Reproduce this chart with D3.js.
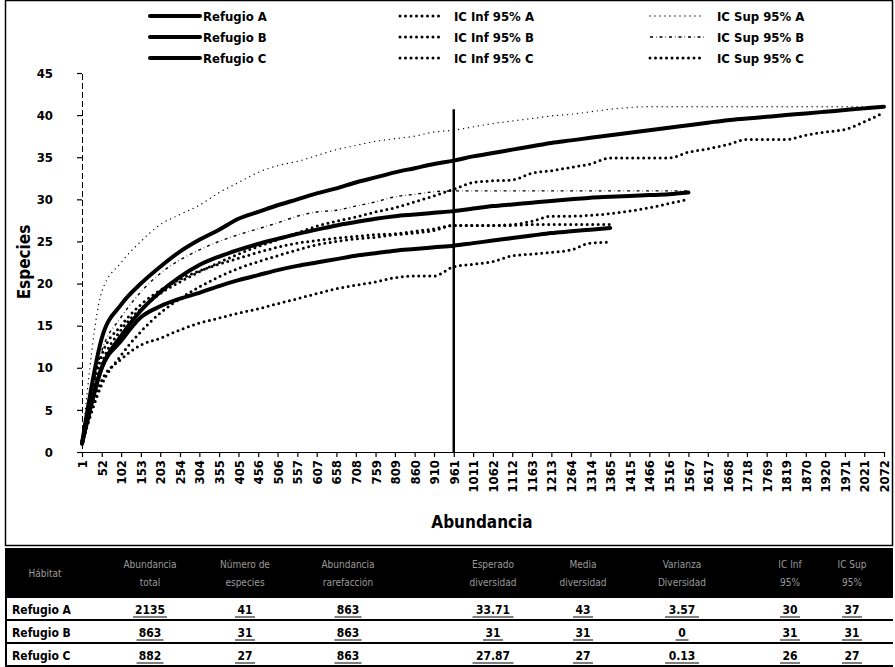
<!DOCTYPE html>
<meta charset="utf-8">
<head>
    <script src="https://d3js.org/d3.v7.min.js"></script>
    <style>
        body { margin: 0; background: #fff; }
        text { font-family: "Liberation Sans Narrow", "DejaVu Sans Condensed", "Liberation Sans", sans-serif; font-weight: bold; }
        .tick-label { font-size: 13px; }
        .legend { font-size: 13px; }
        .title { font-size: 17px; }
        .th { font-size: 10px; fill: #9a9a9a; font-weight: normal; }
        .td { font-size: 12px; }
    </style>
    <title>Curvas de rarefaccion</title>
</head>
<body>
<svg id="chart" width="895" height="667"></svg>

<script>
    // eje x (categorias de abundancia)
    var ticksX = [1, 52, 102, 153, 203, 254, 304, 355, 405, 456, 506, 557, 607, 658, 708, 759, 809, 860, 910, 961,
        1011, 1062, 1112, 1163, 1213, 1264, 1314, 1365, 1415, 1466, 1516, 1567, 1617, 1668, 1718, 1769, 1819, 1870,
        1920, 1971, 2021, 2072];
    var ticksY = [0, 5, 10, 15, 20, 25, 30, 35, 40, 45];

    var refugioA = [1, 13.5, 17.5, 20, 22, 23.8, 25.2, 26.4, 27.7, 28.5, 29.3, 30, 30.7, 31.3, 32, 32.6, 33.2, 33.7, 34.2, 34.6,
        35.1, 35.5, 35.9, 36.3, 36.7, 37, 37.3, 37.6, 37.9, 38.2, 38.5, 38.8, 39.1, 39.4, 39.6, 39.8, 40, 40.2,
        40.4, 40.6, 40.8, 41];
    var infA = [1, 10.5, 14.5, 17, 18.8, 20.2, 21.4, 22.5, 23.5, 24.4, 25.2, 26, 26.8, 27.4, 27.9, 28.5, 29, 29.7, 30.4, 31.2,
        32, 32.2, 32.3, 33.1, 33.4, 33.8, 34.2, 34.9, 34.9, 34.9, 34.9, 35.6, 36, 36.5, 37.1, 37.1, 37.1, 37.6,
        38, 38.3, 39.2, 40.3];
    var supA = [1, 19, 22.5, 25, 27, 28.2, 29.3, 30.8, 32, 33.2, 34, 34.5, 35.2, 35.9, 36.4, 36.9, 37.2, 37.5, 38, 38.2,
        38.6, 39, 39.3, 39.6, 39.9, 40.1, 40.4, 40.7, 40.9, 41, 41, 41, 41, 41, 41, 41, 41, 41,
        41, 41, 41, 41];

    var refugioB = [1, 10, 13.8, 16.8, 19, 20.8, 22.2, 23.2, 24, 24.7, 25.3, 25.9, 26.4, 26.9, 27.3, 27.7, 28, 28.2, 28.4, 28.6,
        28.9, 29.2, 29.4, 29.6, 29.8, 30, 30.2, 30.3, 30.4, 30.5, 30.6, 30.8];
    var infB = [1, 8, 11.5, 14.3, 16.5, 18.2, 19.6, 20.8, 21.8, 22.6, 23.3, 24, 24.6, 25, 25.3, 25.5, 25.8, 26, 26.3, 26.9,
        26.9, 26.9, 27, 27.4, 28, 28, 28.1, 28.3, 28.6, 29, 29.5, 30];
    var supB = [1, 12, 16, 19, 21.2, 22.8, 24, 25, 25.8, 26.5, 27.2, 28, 28.5, 28.7, 29.2, 29.7, 30.3, 30.6, 30.9, 31,
        31, 31, 31, 31, 31, 31, 31, 31, 31, 31, 31, 31];

    var refugioC = [1, 10, 13.2, 16, 17.3, 18.2, 18.9, 19.7, 20.4, 21, 21.6, 22.1, 22.5, 22.9, 23.3, 23.6, 23.9, 24.1, 24.3, 24.5,
        24.8, 25.1, 25.4, 25.7, 26, 26.2, 26.4, 26.6];
    var infC = [1, 8.5, 11, 12.7, 13.5, 14.5, 15.3, 15.9, 16.5, 17, 17.6, 18.2, 18.8, 19.4, 19.8, 20.2, 20.7, 20.9, 20.9, 22,
        22.3, 22.6, 23.3, 23.5, 23.7, 24, 24.8, 24.9];
    var supC = [1, 11.5, 15, 17.5, 19.2, 20.5, 21.5, 22.3, 23, 23.7, 24.3, 24.8, 25.1, 25.4, 25.6, 25.8, 25.9, 26.2, 26.5, 26.9,
        26.9, 26.9, 26.9, 27, 27, 27, 27, 27];

    var refX = 961, refTop = 40.7;

    // tabla
    var tableHead = [["Hábitat"], ["Abundancia", "total"], ["Número de", "especies"], ["Abundancia", "rarefacción"],
        ["Esperado", "diversidad"], ["Media", "diversidad"], ["Varianza", "Diversidad"], ["IC Inf", "95%"], ["IC Sup", "95%"]];
    var tableNames = ["Refugio A", "Refugio B", "Refugio C"];
    var abundTotal = ["2135", "863", "882"];
    var numEspecies = ["41", "31", "27"];
    var abundRare = ["863", "863", "863"];
    var esperado = ["33.71", "31", "27.87"];
    var media = ["43", "31", "27"];
    var varianza = ["3.57", "0", "0.13"];
    var icInf = ["30", "31", "26"];
    var icSup = ["37", "31", "27"];

    var svg = d3.select("#chart");

    var x = d3.scaleLinear().domain([1, 2072]).range([82, 884]);
    var y = d3.scaleLinear().domain([0, 45]).range([452, 73]);

    // marco del grafico
    svg.append("rect")
        .attr("x", 5.5).attr("y", 0.5)
        .attr("width", 887).attr("height", 545)
        .attr("fill", "none").attr("stroke", "#000").attr("stroke-width", 1.5);

    // ejes
    var yAxis = svg.append("g").attr("transform", "translate(82,0)")
        .call(d3.axisLeft(y).tickValues(ticksY).tickSize(5).tickPadding(24));
    yAxis.selectAll("text").attr("class", "tick-label");
    yAxis.select(".domain").attr("stroke-dasharray", "6 3");

    var xAxis = svg.append("g").attr("transform", "translate(0,452)")
        .call(d3.axisBottom(x).tickValues(ticksX).tickSize(5).tickSizeOuter(0).tickFormat(d3.format("d")));
    xAxis.selectAll("text")
        .attr("class", "tick-label")
        .attr("transform", "rotate(-90)")
        .attr("text-anchor", "end")
        .attr("x", -8).attr("y", 0).attr("dy", "0.35em");
    svg.selectAll(".tick line").attr("stroke-width", 1.2);

    svg.append("text").attr("class", "title")
        .attr("transform", "translate(30,262) rotate(-90)")
        .attr("text-anchor", "middle").text("Especies");
    svg.append("text").attr("class", "title")
        .attr("x", 482).attr("y", 528)
        .attr("text-anchor", "middle").text("Abundancia");

    // linea de referencia
    svg.append("line")
        .attr("x1", x(refX)).attr("x2", x(refX))
        .attr("y1", y(refTop)).attr("y2", y(0))
        .attr("stroke", "#000").attr("stroke-width", 2.5);

    var styles = {
        solid: {w: 4, dash: null, cap: "round"},
        bold: {w: 3, dash: "0 5.5", cap: "round"},
        lightA: {w: 1.4, dash: "0 5", cap: "round"},
        lightB: {w: 1.4, dash: "3 3 0.5 3", cap: "butt"}
    };

    var series = [
        {name: "IC Sup 95% A", values: supA, style: "lightA"},
        {name: "IC Sup 95% B", values: supB, style: "lightB"},
        {name: "IC Inf 95% A", values: infA, style: "bold"},
        {name: "IC Inf 95% B", values: infB, style: "bold"},
        {name: "IC Sup 95% C", values: supC, style: "bold"},
        {name: "IC Inf 95% C", values: infC, style: "bold"},
        {name: "Refugio A", values: refugioA, style: "solid"},
        {name: "Refugio B", values: refugioB, style: "solid"},
        {name: "Refugio C", values: refugioC, style: "solid"}
    ];

    var line = d3.line()
        .x(function (d) { return x(d[0]); })
        .y(function (d) { return y(d[1]); })
        .curve(d3.curveMonotoneX);

    series.forEach(function (s) {
        var st = styles[s.style];
        var pts = s.values.map(function (v, i) { return [ticksX[i], v]; });
        svg.append("path")
            .datum(pts)
            .attr("d", line)
            .attr("fill", "none")
            .attr("stroke", "#000")
            .attr("stroke-width", st.w)
            .attr("stroke-linecap", st.cap)
            .attr("stroke-dasharray", st.dash);
    });

    // leyenda
    var legendRows = [
        ["Refugio A", "IC Inf 95% A", "IC Sup 95% A"],
        ["Refugio B", "IC Inf 95% B", "IC Sup 95% B"],
        ["Refugio C", "IC Inf 95% C", "IC Sup 95% C"]
    ];
    var legendStyles = [
        ["solid", "bold", "lightA"],
        ["solid", "bold", "lightB"],
        ["solid", "bold", "bold"]
    ];
    var legendCols = [{x1: 150, x2: 200}, {x1: 400, x2: 442}, {x1: 650, x2: 705}];
    var legendY = [16, 37, 58];

    legendRows.forEach(function (row, r) {
        row.forEach(function (label, c) {
            var st = styles[legendStyles[r][c]];
            var col = legendCols[c];
            svg.append("line")
                .attr("x1", col.x1).attr("x2", col.x2)
                .attr("y1", legendY[r]).attr("y2", legendY[r])
                .attr("stroke", "#000").attr("stroke-width", st.w)
                .attr("stroke-linecap", st.cap)
                .attr("stroke-dasharray", st.dash);
            svg.append("text").attr("class", "legend")
                .attr("x", col.x2 + (c === 0 ? 3 : 12)).attr("y", legendY[r]).attr("dy", "0.35em")
                .text(label);
        });
    });

    // tabla
    var colX = [45, 150, 245, 348, 493, 583, 682, 790, 852];
    var headTop = 548, headH = 50, rowH = 23;
    var cols = [tableNames, abundTotal, numEspecies, abundRare, esperado, media, varianza, icInf, icSup];

    svg.append("rect").attr("x", 5).attr("y", headTop).attr("width", 888).attr("height", headH).attr("fill", "#000");
    tableHead.forEach(function (lines, c) {
        lines.forEach(function (t, k) {
            svg.append("text").attr("class", "th")
                .attr("x", colX[c]).attr("y", headTop + (lines.length === 1 ? headH / 2 : 16 + k * 18))
                .attr("dy", "0.35em").attr("text-anchor", "middle").text(t);
        });
    });

    tableNames.forEach(function (name, r) {
        var ry = headTop + headH + r * rowH;
        svg.append("line").attr("x1", 5).attr("x2", 893).attr("y1", ry + rowH - 1).attr("y2", ry + rowH - 1)
            .attr("stroke", "#000").attr("stroke-width", 2);
        svg.append("line").attr("x1", 6).attr("x2", 6).attr("y1", ry).attr("y2", ry + rowH)
            .attr("stroke", "#000").attr("stroke-width", 2);
        cols.forEach(function (col, c) {
            svg.append("text").attr("class", "td")
                .attr("x", c === 0 ? 12 : colX[c])
                .attr("y", ry + rowH / 2).attr("dy", "0.35em")
                .attr("text-anchor", c === 0 ? "start" : "middle")
                .text(col[r]);
        });
        cols.slice(1).forEach(function (col, c) {
            var w = col[r].length * 7 + 6;
            svg.append("line").attr("x1", colX[c + 1] - w / 2).attr("x2", colX[c + 1] + w / 2)
                .attr("y1", ry + rowH - 4).attr("y2", ry + rowH - 4)
                .attr("stroke", "#000").attr("stroke-width", 1);
        });
    });
</script>
</body>
